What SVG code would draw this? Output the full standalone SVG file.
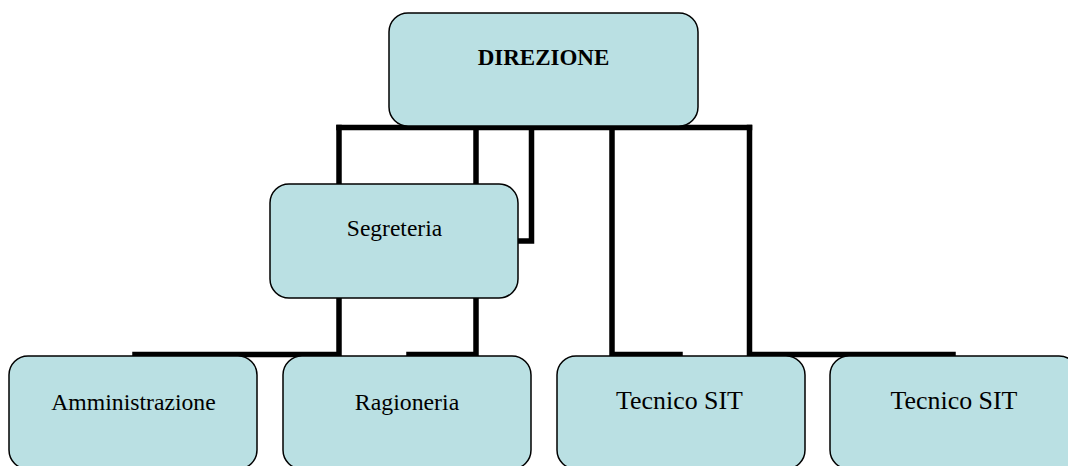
<svg xmlns="http://www.w3.org/2000/svg" width="1068" height="466" viewBox="0 0 1068 466">
<style>
.box{fill:#BAE0E3;stroke:#000;stroke-width:1.5}
.conn{fill:none;stroke:#000;stroke-width:5.5;stroke-linejoin:miter;stroke-linecap:square}
.t{font-family:"Liberation Serif","Times New Roman",serif;fill:#000;text-anchor:middle}
</style>
<rect width="1068" height="466" fill="#fff"/>
<g id="connectors">
<path class="conn" d="M339,127.5 H749.5"/>
<path class="conn" d="M339,127.5 V184"/>
<path class="conn" d="M476,127.5 V184"/>
<path class="conn" d="M531.5,127.5 V241 H518"/>
<path class="conn" d="M612,127.5 V354.5 H680"/>
<path class="conn" d="M749.5,127.5 V354.5 H953"/>
<path class="conn" d="M339,298 V354.5 H135"/>
<path class="conn" d="M476,298 V354.5 H409"/>
</g>
<g id="direzione">
<rect class="box" x="389" y="13" width="309" height="113" rx="19"/>
<text class="t" x="543.5" y="64.5" font-size="23" font-weight="bold">DIREZIONE</text>
</g>
<g id="segreteria">
<rect class="box" x="270" y="184" width="248" height="114" rx="19"/>
<text class="t" x="394.5" y="236" font-size="23.5">Segreteria</text>
</g>
<g id="amministrazione">
<rect class="box" x="9" y="356" width="248" height="113" rx="19"/>
<text class="t" x="133.5" y="409.5" font-size="23.7">Amministrazione</text>
</g>
<g id="ragioneria">
<rect class="box" x="283" y="356" width="248" height="113" rx="19"/>
<text class="t" x="407" y="409.5" font-size="23.8">Ragioneria</text>
</g>
<g id="tecnico1">
<rect class="box" x="557" y="356" width="248" height="113" rx="19"/>
<text class="t" x="679.5" y="408.5" font-size="25.9">Tecnico SIT</text>
</g>
<g id="tecnico2">
<rect class="box" x="830" y="356" width="248" height="113" rx="19"/>
<text class="t" x="954" y="408.5" font-size="25.9">Tecnico SIT</text>
</g>
</svg>
